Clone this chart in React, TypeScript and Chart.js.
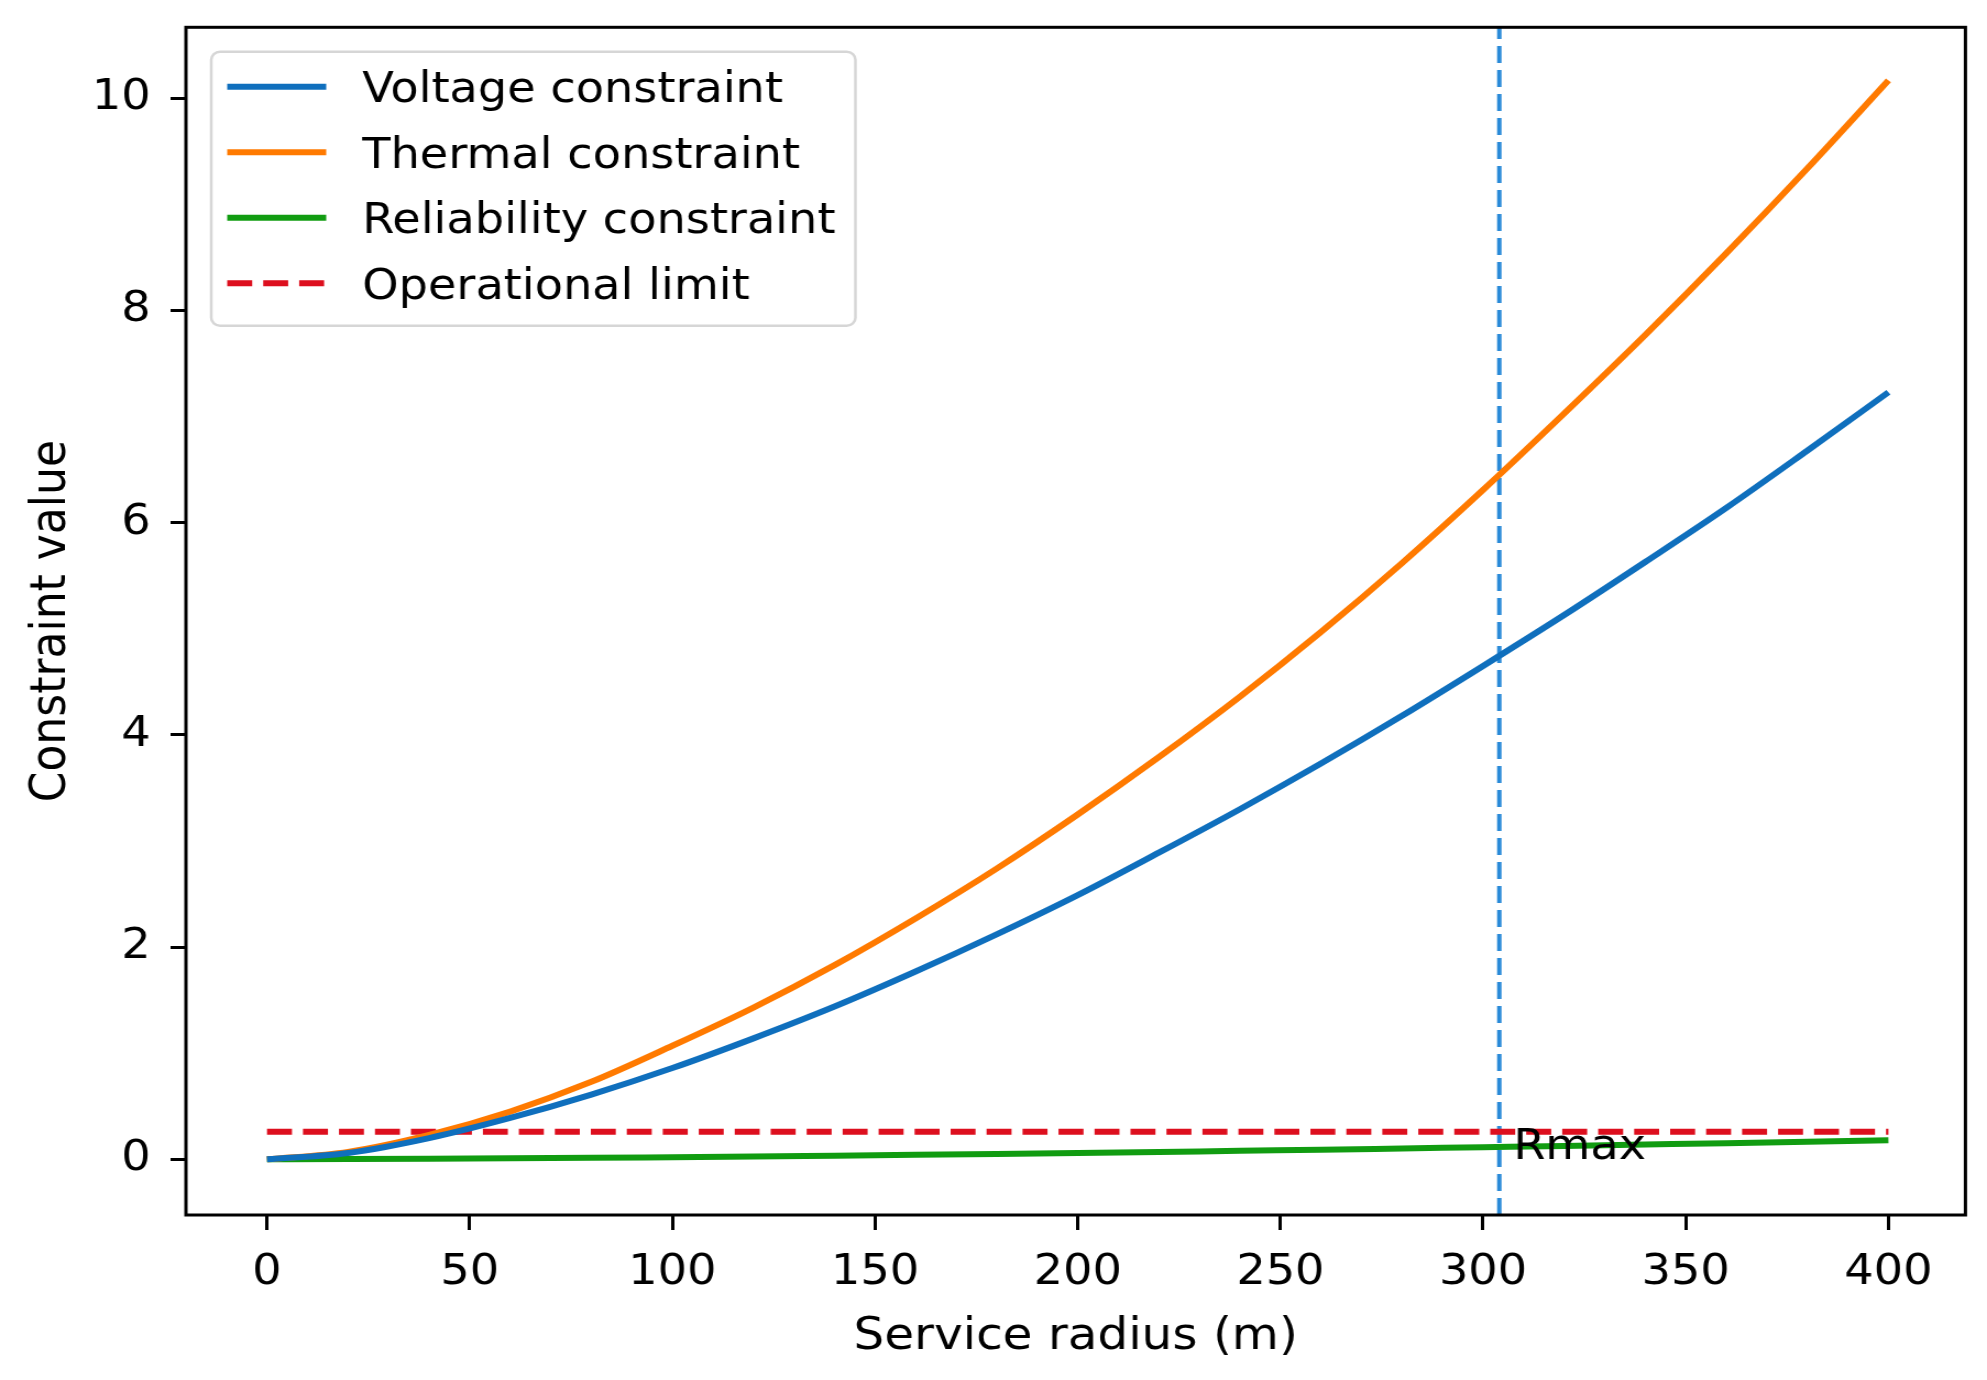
import React, { useEffect, useRef } from "react";
import { Chart, registerables } from "chart.js";

Chart.register(...registerables);

// values
const radius = [0, 20, 40, 60, 80, 100, 120, 140, 160, 180, 200, 220, 240, 260, 280, 300, 320, 340, 360, 380, 400];
const voltage = [0, 0.06, 0.2, 0.39, 0.61, 0.86, 1.14, 1.44, 1.77, 2.12, 2.49, 2.89, 3.3, 3.73, 4.18, 4.65, 5.13, 5.63, 6.14, 6.68, 7.23];
const thermal = [0, 0.07, 0.23, 0.45, 0.73, 1.07, 1.43, 1.83, 2.27, 2.74, 3.25, 3.79, 4.36, 4.97, 5.62, 6.31, 7.03, 7.77, 8.54, 9.34, 10.17];
const reliability = [0, 0.002, 0.005, 0.009, 0.014, 0.02, 0.026, 0.034, 0.042, 0.05, 0.059, 0.069, 0.08, 0.09, 0.102, 0.114, 0.126, 0.139, 0.152, 0.166, 0.18];
const operationalLimit = 0.26;
const rMax = 304;

const xTicks = [0, 50, 100, 150, 200, 250, 300, 350, 400];
const yTicks = [0, 2, 4, 6, 8, 10];
const xRange = [-20, 419];
const yRange = [-0.525, 10.67];

const labels = ["Voltage constraint", "Thermal constraint", "Reliability constraint", "Operational limit"];
const xTitle = "Service radius (m)";
const yTitle = "Constraint value";
const rMaxText = "Rmax";

// the reference is stretched sideways, so the canvas is drawn narrower and widened by css
const W = 1987;
const H = 1380;
const SX = 1.1;
const CW = Math.round(W / SX);

const FONT = "'DejaVu Sans', sans-serif";
const FS = 42;
const TITLE_FS = 44;

const framePlugin = {
  id: "frame",
  afterDraw(chart: any) {
    const { ctx, chartArea: a } = chart;
    ctx.save();
    ctx.strokeStyle = "#000";
    ctx.lineWidth = 3;
    ctx.strokeRect(a.left, a.top, a.right - a.left, a.bottom - a.top);
    ctx.restore();
  },
};

const rMaxPlugin = {
  id: "rmaxText",
  afterDatasetsDraw(chart: any) {
    const { ctx, scales } = chart;
    const x = scales.x.getPixelForValue(rMax) + 12.7;
    const y = scales.y.getPixelForValue(0);
    ctx.save();
    ctx.font = `${FS}px ${FONT}`;
    ctx.fillStyle = "#000";
    ctx.textBaseline = "alphabetic";
    ctx.textAlign = "left";
    ctx.fillText(rMaxText, x, y);
    ctx.restore();
  },
};

const legendPlugin = {
  id: "boxLegend",
  afterDraw(chart: any) {
    const { ctx, chartArea: a } = chart;
    const items = chart.data.datasets.filter((d: any) => d.label);
    const left = a.left + 23;
    const top = a.top + 24.5;
    const w = 585.5;
    const rowH = 65.5;
    const h = 274;
    ctx.save();
    ctx.beginPath();
    ctx.roundRect(left, top, w, h, 8);
    ctx.fillStyle = "rgba(255,255,255,0.8)";
    ctx.fill();
    ctx.strokeStyle = "#d6d6d6";
    ctx.lineWidth = 2.5;
    ctx.stroke();
    ctx.font = `${FS}px ${FONT}`;
    ctx.textBaseline = "alphabetic";
    ctx.textAlign = "left";
    items.forEach((d: any, i: number) => {
      const y = top + 35 + i * rowH;
      ctx.beginPath();
      ctx.setLineDash(d.borderDash || []);
      ctx.strokeStyle = d.borderColor;
      ctx.lineWidth = d.borderWidth;
      ctx.moveTo(left + 14.5, y);
      ctx.lineTo(left + 104.5, y);
      ctx.stroke();
      ctx.setLineDash([]);
      ctx.fillStyle = "#000";
      ctx.fillText(d.label, left + 137.3, y + 15.5);
    });
    ctx.restore();
  },
};

const App: React.FC = () => {
  const canvasRef = useRef<HTMLCanvasElement | null>(null);

  useEffect(() => {
    if (!canvasRef.current) return;
    const ctx = canvasRef.current.getContext("2d");
    if (!ctx) return;

    const pts = (ys: number[]) => radius.map((r, i) => ({ x: r, y: ys[i] }));

    const chart = new Chart(ctx, {
      type: "line",
      data: {
        datasets: [
          { label: labels[0], data: pts(voltage), borderColor: "#0f6fbd", borderWidth: 6, pointRadius: 0, cubicInterpolationMode: "monotone" },
          { label: labels[1], data: pts(thermal), borderColor: "#ff7a00", borderWidth: 6, pointRadius: 0, cubicInterpolationMode: "monotone" },
          { label: labels[2], data: pts(reliability), borderColor: "#119c11", borderWidth: 6, pointRadius: 0, cubicInterpolationMode: "monotone" },
          {
            label: labels[3],
            data: [{ x: radius[0], y: operationalLimit }, { x: radius[radius.length - 1], y: operationalLimit }],
            borderColor: "#dd0f1e",
            borderWidth: 6,
            borderDash: [22.7, 10],
            pointRadius: 0,
          },
          {
            label: "",
            data: [{ x: rMax, y: yRange[0] }, { x: rMax, y: yRange[1] }],
            borderColor: "#2a8ad8",
            borderWidth: 4,
            borderDash: [17, 7],
            pointRadius: 0,
          },
        ],
      },
      options: {
        animation: false,
        responsive: false,
        devicePixelRatio: 1,
        layout: { padding: { left: 0, right: 19.6, top: 27.3, bottom: 0 } },
        plugins: { legend: { display: false }, tooltip: { enabled: false } },
        scales: {
          x: {
            type: "linear",
            min: xRange[0],
            max: xRange[1],
            afterBuildTicks: (s: any) => { s.ticks = xTicks.map((v) => ({ value: v })); },
            afterFit: (s: any) => { s.height = 165; s.paddingLeft = 0; s.paddingRight = 0; },
            border: { display: false },
            grid: { drawOnChartArea: false, drawTicks: true, tickLength: 15, color: "#000", lineWidth: 3 },
            ticks: { color: "#000", font: { family: FONT, size: FS }, padding: 18, maxRotation: 0 },
            title: { display: true, text: xTitle, color: "#000", font: { family: FONT, size: TITLE_FS }, padding: { top: 0, bottom: 16 } },
          },
          y: {
            type: "linear",
            min: yRange[0],
            max: yRange[1],
            afterBuildTicks: (s: any) => { s.ticks = yTicks.map((v) => ({ value: v })); },
            afterFit: (s: any) => { s.width = 169; s.paddingTop = 0; s.paddingBottom = 0; },
            border: { display: false },
            grid: { drawOnChartArea: false, drawTicks: true, tickLength: 14, color: "#000", lineWidth: 3 },
            ticks: { color: "#000", font: { family: FONT, size: FS }, padding: 18 },
            title: { display: true, text: yTitle, color: "#000", font: { family: FONT, size: TITLE_FS }, padding: { top: 20.9, bottom: 0 } },
          },
        },
      },
      plugins: [framePlugin, rMaxPlugin, legendPlugin],
    });

    return () => chart.destroy();
  }, []);

  return (
    <div style={{ position: "absolute", left: 0, top: 0, width: W, height: H, background: "#fff" }}>
      <canvas ref={canvasRef} width={CW} height={H} style={{ width: W, height: H, display: "block" }} />
    </div>
  );
};

export default App;
